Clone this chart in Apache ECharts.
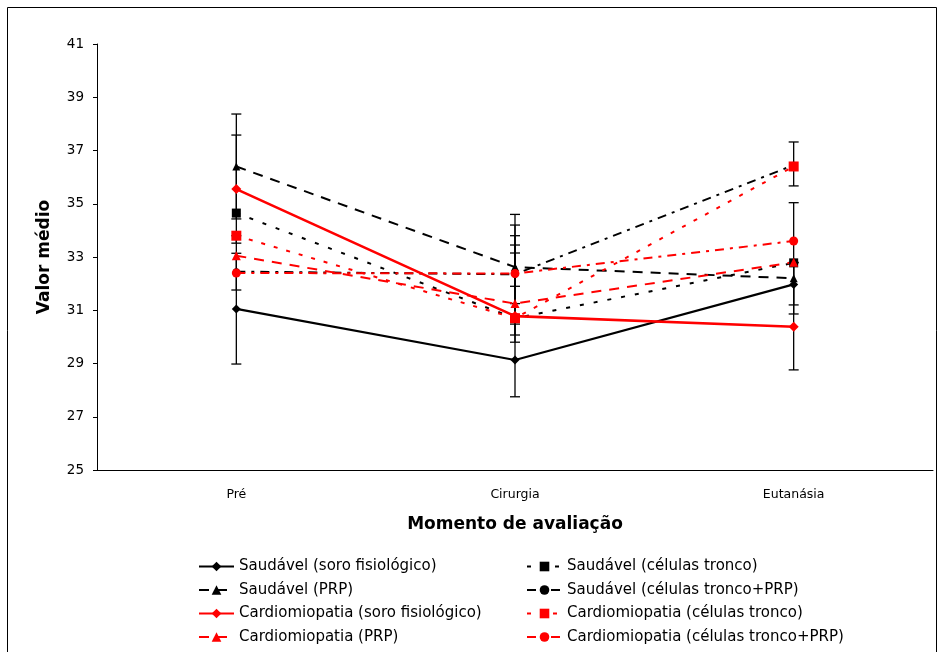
<!DOCTYPE html>
<html>
<head>
<meta charset="utf-8">
<script src="https://cdn.jsdelivr.net/npm/echarts@6/dist/echarts.min.js"></script>
<style>
html,body{margin:0;padding:0;background:#fff;}
#chart{width:945px;height:652px;}
</style>
</head>
<body>
<div id="chart"></div>
<script>
// ---- Data ----
var categories = ['Pré', 'Cirurgia', 'Eutanásia'];
var yTicks = [25, 27, 29, 31, 33, 35, 37, 39, 41];

var saudavelSoro       = [31.05, 29.13, 31.97];
var saudavelPRP        = [36.40, 32.62, 32.20];
var saudavelTronco     = [34.65, 30.70, 32.78];
var saudavelTroncoPRP  = [32.45, 32.35, 36.45];
var cardioSoro         = [35.55, 30.78, 30.38];
var cardioPRP          = [33.05, 31.25, 32.80];
var cardioTronco       = [33.80, 30.70, 36.40];
var cardioTroncoPRP    = [32.40, 32.38, 33.60];

// error bars: [low, high] per category (null = none)
var errSaudavelSoro      = [[28.98, 33.80], [27.75, 30.48], [28.76, 35.04]];
var errSaudavelPRP       = [[34.43, 38.37], [30.07, 34.60], null];
var errSaudavelTronco    = [null, [29.80, 34.20], [31.20, 32.78]];
var errSaudavelTroncoPRP = [[31.76, 33.14], [31.90, 33.15], [35.67, 37.32]];
var errCardioSoro        = [[33.52, 37.58], null, null];
var errCardioPRP         = [null, [31.25, 33.45], [30.86, 32.80]];
var errCardioTronco      = [null, [30.70, 33.80], null];

var names = {
  ss: 'Saudável (soro fisiológico)',
  sprp: 'Saudável (PRP)',
  st: 'Saudável (células tronco)',
  stp: 'Saudável (células tronco+PRP)',
  cs: 'Cardiomiopatia (soro fisiológico)',
  cprp: 'Cardiomiopatia (PRP)',
  ct: 'Cardiomiopatia (células tronco)',
  ctp: 'Cardiomiopatia (células tronco+PRP)'
};

var errData = [];
[errSaudavelSoro, errSaudavelPRP, errSaudavelTronco, errSaudavelTroncoPRP,
 errCardioSoro, errCardioPRP, errCardioTronco].forEach(function (arr) {
  arr.forEach(function (e, i) { if (e) errData.push([i, e[0], e[1]]); });
});

var BLACK = '#000000', RED = '#ff0000';
var FONT = 'DejaVu Sans';

function lineSeries(name, data, color, type, symbol, size, width) {
  return {
    name: name, type: 'line', data: data,
    symbol: symbol, symbolSize: size, showSymbol: true,
    itemStyle: { color: color, borderWidth: 0 },
    lineStyle: { color: color, width: width, type: type },
    emphasis: { disabled: true },
    animation: false, z: 3
  };
}

var legendText = { fontFamily: FONT, fontSize: 15, color: '#000', lineHeight: 14 };

var chart = echarts.init(document.getElementById('chart'), null, { renderer: 'canvas' });
var option = {
  backgroundColor: '#ffffff',
  animation: false,
  textStyle: { fontFamily: FONT },
  grid: { left: 97, right: 12, top: 44, bottom: 182, containLabel: false, outerBoundsMode: 'none' },
  graphic: [{
    type: 'rect', silent: true, z: -10,
    shape: { x: 7.5, y: 7.5, width: 929, height: 700 },
    style: { fill: 'none', stroke: '#000', lineWidth: 1 }
  }],
  xAxis: {
    type: 'category', data: categories, boundaryGap: true,
    name: 'Momento de avaliação', nameLocation: 'middle', nameGap: 46,
    nameTextStyle: { fontFamily: FONT, fontWeight: 'bold', fontSize: 17, color: '#000' },
    axisLine: { lineStyle: { color: '#000', width: 1 } },
    axisTick: { show: false },
    axisLabel: { color: '#000', fontSize: 12.5, fontFamily: FONT, margin: 18 },
    splitLine: { show: false }
  },
  yAxis: {
    type: 'value', min: yTicks[0], max: yTicks[yTicks.length - 1], interval: 2,
    name: 'Valor médio', nameLocation: 'middle', nameGap: 44, nameRotate: 90,
    nameTextStyle: { fontFamily: FONT, fontWeight: 'bold', fontSize: 17, color: '#000' },
    axisLine: { show: true, lineStyle: { color: '#000', width: 1 } },
    axisTick: { show: true, inside: false, length: 4, lineStyle: { color: '#000' } },
    axisLabel: { color: '#000', fontSize: 13.5, fontFamily: FONT, margin: 13 },
    splitLine: { show: false }
  },
  legend: [{
    orient: 'vertical', left: 198, top: 559, padding: 0, itemWidth: 35, itemHeight: 12, itemGap: 8.5,
    textStyle: legendText,
    data: [names.ss, names.sprp, names.cs, names.cprp], selectedMode: false
  }, {
    orient: 'vertical', left: 526, top: 559, padding: 0, itemWidth: 35, itemHeight: 12, itemGap: 8.5,
    textStyle: legendText,
    data: [names.st, names.stp, names.ct, names.ctp], selectedMode: false
  }],
  series: [
    {
      type: 'custom', name: 'err', data: errData, z: 1, silent: true,
      renderItem: function (params, api) {
        var x = api.coord([api.value(0), api.value(1)])[0];
        var yl = api.coord([api.value(0), api.value(1)])[1];
        var yh = api.coord([api.value(0), api.value(2)])[1];
        var hw = 5;
        var st = { stroke: '#000', lineWidth: 1.3 };
        return { type: 'group', children: [
          { type: 'line', shape: { x1: x, y1: yl, x2: x, y2: yh }, style: st },
          { type: 'line', shape: { x1: x - hw, y1: yl, x2: x + hw, y2: yl }, style: st },
          { type: 'line', shape: { x1: x - hw, y1: yh, x2: x + hw, y2: yh }, style: st }
        ]};
      }
    },
    lineSeries(names.ss, saudavelSoro, BLACK, 'solid', 'diamond', 9, 2.2),
    lineSeries(names.sprp, saudavelPRP, BLACK, [10, 8], 'triangle', 8, 2),
    lineSeries(names.st, saudavelTronco, BLACK, [4, 10], 'rect', 9, 2),
    lineSeries(names.stp, saudavelTroncoPRP, BLACK, [9, 6, 3, 6], 'circle', 7, 2),
    lineSeries(names.cprp, cardioPRP, RED, [10, 8], 'triangle', 9, 2),
    lineSeries(names.ctp, cardioTroncoPRP, RED, [9, 6, 3, 6], 'circle', 9, 2),
    lineSeries(names.ct, cardioTronco, RED, [4, 9], 'rect', 10, 2),
    lineSeries(names.cs, cardioSoro, RED, 'solid', 'diamond', 10, 2.6)
  ]
};
chart.setOption(option);
</script>
</body>
</html>
